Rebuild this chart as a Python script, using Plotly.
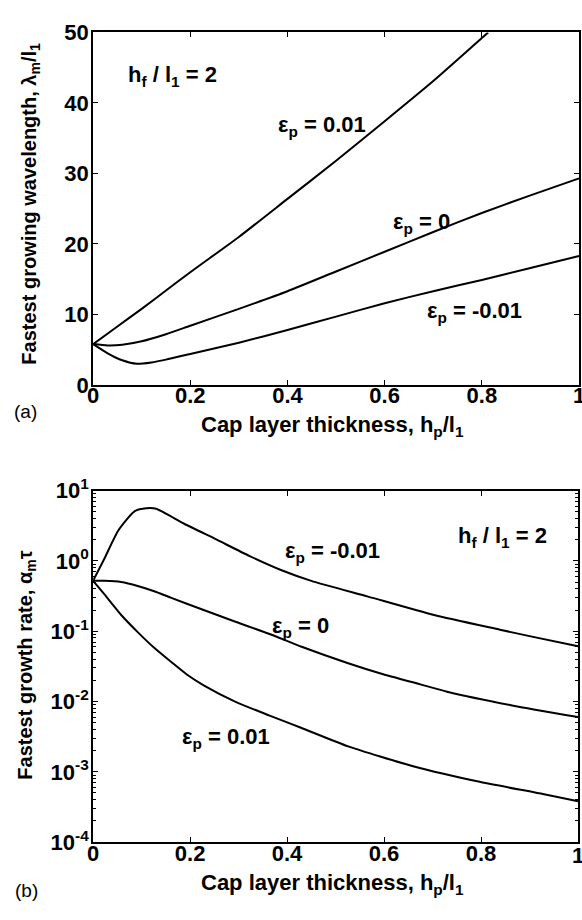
import plotly.graph_objects as go

# ---- Panel (a): fastest growing wavelength ----
a_x_p001 = [0, 0.05, 0.1, 0.15, 0.2, 0.3, 0.4, 0.5, 0.6, 0.7, 0.8, 0.813]
a_y_p001 = [5.8, 8.3, 10.8, 13.4, 16.0, 21.0, 26.4, 31.8, 37.4, 43.1, 49.2, 50.0]
a_x_0 = [0, 0.03, 0.06, 0.1, 0.15, 0.2, 0.3, 0.4, 0.5, 0.6, 0.7, 0.8, 0.9, 1.0]
a_y_0 = [5.8, 5.6, 5.7, 6.2, 7.2, 8.4, 10.8, 13.3, 16.1, 18.9, 21.7, 24.4, 26.9, 29.3]
a_x_m001 = [0, 0.03, 0.06, 0.09, 0.12, 0.15, 0.2, 0.3, 0.4, 0.5, 0.6, 0.7, 0.8, 0.9, 1.0]
a_y_m001 = [5.8, 4.5, 3.5, 3.0, 3.2, 3.6, 4.4, 6.0, 7.8, 9.7, 11.6, 13.3, 14.9, 16.6, 18.3]

# ---- Panel (b): fastest growth rate ----
b_x_m001 = [0, 0.024, 0.052, 0.086, 0.11, 0.13, 0.187, 0.255, 0.323, 0.39, 0.45, 0.567, 0.703, 0.839, 0.9, 1.0]
b_y_m001 = [0.52, 1.1, 2.7, 5.1, 5.6, 5.5, 3.4, 2.0, 1.17, 0.73, 0.52, 0.31, 0.17, 0.105, 0.085, 0.061]
b_x_0 = [0, 0.024, 0.058, 0.092, 0.126, 0.16, 0.228, 0.295, 0.364, 0.43, 0.526, 0.593, 0.675, 0.73, 0.864, 1.0]
b_y_0 = [0.52, 0.52, 0.5, 0.44, 0.37, 0.30, 0.2, 0.135, 0.091, 0.06, 0.035, 0.025, 0.0175, 0.0138, 0.0088, 0.006]
b_x_p001 = [0, 0.024, 0.058, 0.092, 0.126, 0.16, 0.194, 0.228, 0.295, 0.364, 0.43, 0.526, 0.66, 0.797, 0.93, 1.0]
b_y_p001 = [0.52, 0.33, 0.17, 0.097, 0.058, 0.037, 0.024, 0.017, 0.0098, 0.0063, 0.0042, 0.0023, 0.0012, 0.00072, 0.00048, 0.00038]

x_tickvals = [0, 0.2, 0.4, 0.6, 0.8, 1]
x_ticktext = ["0", "0.2", "0.4", "0.6", "0.8", "1"]
a_tickvals = [0, 10, 20, 30, 40, 50]
a_ticktext = ["0", "10", "20", "30", "40", "50"]
b_tickvals = [1e-4, 1e-3, 1e-2, 1e-1, 1, 10]
b_ticktext = ["10<sup>-4</sup>", "10<sup>-3</sup>", "10<sup>-2</sup>", "10<sup>-1</sup>", "10<sup>0</sup>", "10<sup>1</sup>"]

W, H = 582, 920
FONT = "Liberation Sans"
BOLD = dict(family=FONT, size=22, color="black", weight="bold")
TITLEH = dict(family=FONT, size=22, color="black", weight="bold")
TITLEV = dict(family=FONT, size=20, color="black", weight="bold")
TICKF = dict(family=FONT, size=22, color="black", weight="bold")

fig = go.Figure()
line = dict(color="black", width=2, shape="spline", smoothing=0.6)
for xs, ys in [(a_x_p001, a_y_p001), (a_x_0, a_y_0), (a_x_m001, a_y_m001)]:
    fig.add_trace(go.Scatter(x=xs, y=ys, mode="lines", line=line, xaxis="x", yaxis="y", showlegend=False))
for xs, ys in [(b_x_m001, b_y_m001), (b_x_0, b_y_0), (b_x_p001, b_y_p001)]:
    fig.add_trace(go.Scatter(x=xs, y=ys, mode="lines", line=line, xaxis="x2", yaxis="y2", showlegend=False))

def px(x):
    return x / W

def py(y):
    return 1 - y / H

axcommon = dict(showgrid=False, zeroline=False, showline=True, linecolor="black", linewidth=2,
                mirror="ticks", ticks="inside", ticklen=5, tickwidth=1, tickcolor="black",
                tickfont=TICKF)

fig.update_layout(
    width=W, height=H, margin=dict(l=0, r=0, t=0, b=0),
    paper_bgcolor="white", plot_bgcolor="white",
    xaxis=dict(domain=[px(88), px(579)], anchor="y", range=[0, 1], tickvals=x_tickvals, ticktext=x_ticktext,
               ticklabelstandoff=-10, **axcommon),
    yaxis=dict(domain=[py(381), py(17)], anchor="x", range=[0, 50], tickvals=a_tickvals, ticktext=a_ticktext,
               ticklabelstandoff=-2, **axcommon),
    xaxis2=dict(domain=[px(88), px(578)], anchor="y2", range=[0, 1], tickvals=x_tickvals, ticktext=x_ticktext,
                ticklabelstandoff=-10, **axcommon),
    yaxis2=dict(domain=[py(853), py(490)], anchor="x2", type="log", range=[-4, 1], tickvals=b_tickvals, ticktext=b_ticktext,
                ticklabelstandoff=-2,
                minor=dict(ticks="inside", ticklen=3, tickcolor="black", dtick="D1"), **axcommon),
)

def ann(text, x, y, font=BOLD, angle=0, xref="paper"):
    fig.add_annotation(text=text, x=(x if xref != "paper" else px(x)), y=py(y), xref=xref, yref="paper",
                       showarrow=False, font=font, textangle=angle, xanchor="center", yanchor="middle")

# last x tick labels (at the right page edge, partly cut like the reference)
ann("1", 1, 392, font=TICKF, xref="x")
ann("1", 1, 867, font=TICKF, xref="x2")

# axis titles
ann("Fastest growing wavelength, λ<sub>m</sub>/l<sub>1</sub>", 25, 194, font=TITLEV, angle=-90)
ann("Cap layer thickness, h<sub>p</sub>/l<sub>1</sub>", 330, 423, font=TITLEH)
ann("Fastest growth rate, α<sub>m</sub>τ", 21, 670, font=TITLEV, angle=-90)
ann("Cap layer thickness, h<sub>p</sub>/l<sub>1</sub>", 330, 896, font=TITLEH)

# panel labels
REG = dict(family=FONT, size=19, color="black")
ann("(a)", 20, 408, font=REG)
ann("(b)", 21, 903, font=REG)

# in-plot annotations
ann("h<sub>f</sub> / l<sub>1</sub> = 2", 168, 62)
ann("h<sub>f</sub> / l<sub>1</sub> = 2", 502, 538)
ann("ε<sub>p</sub> = 0.01", 319, 114)
ann("ε<sub>p</sub> = 0", 420, 214)
ann("ε<sub>p</sub> = -0.01", 473, 306)
ann("ε<sub>p</sub> = -0.01", 330, 553)
ann("ε<sub>p</sub> = 0", 298, 631)
ann("ε<sub>p</sub> = 0.01", 222, 746)

fig.write_html("out.html")
